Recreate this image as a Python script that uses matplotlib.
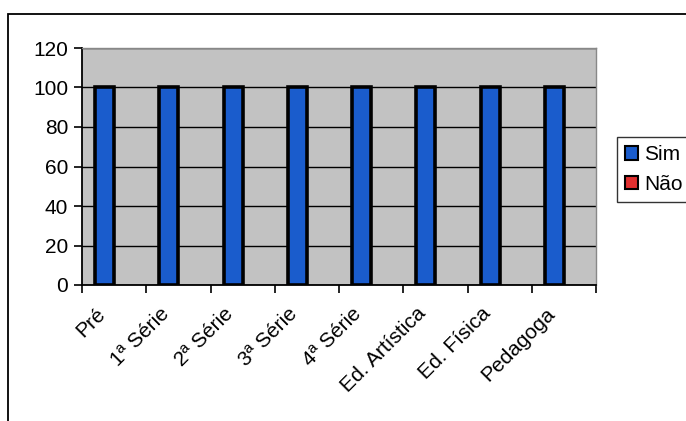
import matplotlib
matplotlib.use("Agg")
import matplotlib.pyplot as plt
from matplotlib.patches import Rectangle, Patch
from matplotlib.transforms import ScaledTranslation
import numpy as np

categories = ["Pré", "1ª Série", "2ª Série", "3ª Série", "4ª Série",
              "Ed. Artística", "Ed. Física", "Pedagoga"]
sim = [100, 100, 100, 100, 100, 100, 100, 100]
nao = [0, 0, 0, 0, 0, 0, 0, 0]
series_names = ["Sim", "Não"]
yticks = [0, 20, 40, 60, 80, 100, 120]

plt.rcParams["font.family"] = ["Liberation Sans", "DejaVu Sans"]

fig = plt.figure(figsize=(6.86, 4.21), dpi=100)
W, H = 686, 421

# outer chart frame
fig.patches.append(Rectangle((8 / W, -0.1), 1.2, 1 - 14 / H + 0.1,
                             transform=fig.transFigure, fill=False,
                             edgecolor="black", linewidth=1.3))

ax = fig.add_axes([82 / W, 1 - 285 / H, 514 / W, 237 / H])
ax.set_facecolor("#c2c2c2")

x = np.arange(len(categories))
w = 1 / 3.4
blue = "#1a5ccc"
red = "#e03030"
ax.bar(x - w / 2, sim, width=w, color=blue, edgecolor="black", linewidth=2.6,
       zorder=3, label=series_names[0])
ax.bar(x + w / 2, nao, width=w, color=red, edgecolor="black", linewidth=0,
       zorder=3, label=series_names[1])

ax.set_xlim(-0.5, len(categories) - 0.5)
ax.set_ylim(0, 120)
ax.set_yticks(yticks)
ax.set_yticklabels([str(v) for v in yticks], fontsize=15)
ax.yaxis.grid(True, color="black", linewidth=1.0, zorder=1)
ax.set_axisbelow(True)

# category boundaries carry the ticks, labels sit at centres
ax.set_xticks(np.arange(-0.5, len(categories), 1.0))
ax.set_xticklabels([])
ax.set_xticks(x, minor=True)
ax.set_xticklabels(categories, minor=True, rotation=45, ha="right",
                   rotation_mode="anchor", fontsize=15)
ax.tick_params(axis="x", which="minor", length=0, pad=8)
shift = ScaledTranslation(-19 / 100, -8 / 100, fig.dpi_scale_trans)
for lbl in ax.get_xticklabels(minor=True):
    lbl.set_transform(lbl.get_transform() + shift)
ax.tick_params(axis="x", which="major", length=6, width=1.2, direction="out")
ax.tick_params(axis="y", length=6, width=1.2, direction="out", pad=4)

for side in ["top", "right"]:
    ax.spines[side].set_color("#888888")
    ax.spines[side].set_linewidth(1.0)
for side in ["left", "bottom"]:
    ax.spines[side].set_color("black")
    ax.spines[side].set_linewidth(1.3)

handles = [Patch(facecolor=blue, edgecolor="black", linewidth=1.5),
           Patch(facecolor=red, edgecolor="black", linewidth=1.5)]
leg = fig.legend(handles, series_names, loc="upper left",
                 bbox_to_anchor=(617 / W, 1 - 137 / H), fontsize=15,
                 frameon=True, fancybox=False, edgecolor="black",
                 handlelength=0.6, handleheight=0.6, handletextpad=0.3,
                 borderpad=0.4, labelspacing=0.5, borderaxespad=0)
leg.get_frame().set_linewidth(1.0)

fig.savefig("out.png", dpi=100, facecolor="white")
